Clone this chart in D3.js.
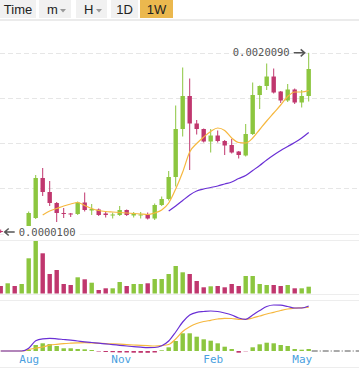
<!DOCTYPE html>
<html>
<head>
<meta charset="utf-8">
<script src="https://cdn.jsdelivr.net/npm/d3@7/dist/d3.min.js"></script>
<style>
  body { margin: 0; background: #fff; overflow: hidden; }
</style>
</head>
<body>
<svg id="chart"></svg>
<script>
// weekly candles, first week starts 2016-07-04
const firstWeek = new Date(2016, 6, 4);
const weekCount = 45;

const opens = [1.061e-5, 1.030e-5, 1.061e-5, 1.030e-5, 1.125e-5, 1.555e-5, 5.048e-5, 3.343e-5, 2.418e-5, 1.802e-5,
  1.776e-5, 1.750e-5, 2.454e-5, 1.939e-5, 1.997e-5, 1.776e-5, 1.699e-5, 1.699e-5, 1.968e-5, 1.674e-5,
  1.674e-5, 1.724e-5, 1.532e-5, 2.280e-5, 2.720e-5, 5.198e-5, 2.135e-4, 5.641e-4, 2.511e-4, 2.135e-4,
  1.478e-4, 1.763e-4, 1.500e-4, 1.333e-4, 1.101e-4, 9.788e-5, 1.843e-4, 5.809e-4, 7.571e-4, 1.001e-3,
  6.439e-4, 4.941e-4, 6.831e-4, 4.659e-4, 5.641e-4];
const highs = [1.108e-5, 1.076e-5, 1.092e-5, 1.108e-5, 1.883e-5, 5.512e-5, 6.775e-5, 4.620e-5, 2.490e-5, 2.087e-5,
  1.802e-5, 2.527e-5, 3.294e-5, 2.348e-5, 2.057e-5, 1.911e-5, 1.828e-5, 2.214e-5, 1.997e-5, 1.855e-5,
  1.855e-5, 1.828e-5, 2.383e-5, 2.928e-5, 6.201e-5, 4.265e-4, 1.305e-3, 9.441e-4, 2.783e-4, 2.167e-4,
  2.135e-4, 2.043e-4, 1.545e-4, 1.591e-4, 1.117e-4, 2.474e-4, 8.391e-4, 7.683e-4, 1.468e-3, 1.267e-3,
  6.535e-4, 8.030e-4, 7.034e-4, 6.730e-4, 2.009e-3];
const lows = [1.000e-5, 1.015e-5, 1.015e-5, 1.015e-5, 1.061e-5, 1.510e-5, 2.972e-5, 2.214e-5, 1.382e-5, 1.555e-5,
  1.602e-5, 1.699e-5, 1.883e-5, 1.699e-5, 1.650e-5, 1.578e-5, 1.532e-5, 1.650e-5, 1.650e-5, 1.578e-5,
  1.532e-5, 1.488e-5, 1.466e-5, 2.214e-5, 2.603e-5, 3.931e-5, 1.712e-4, 6.386e-5, 1.815e-4, 1.435e-4,
  1.069e-4, 1.435e-4, 9.933e-5, 1.038e-4, 8.962e-5, 9.504e-5, 1.789e-4, 3.847e-4, 6.730e-4, 6.070e-4,
  4.591e-4, 4.728e-4, 4.457e-4, 4.021e-4, 4.797e-4];
const closes = [1.030e-5, 1.061e-5, 1.030e-5, 1.092e-5, 1.802e-5, 5.048e-5, 3.343e-5, 2.418e-5, 1.802e-5, 1.750e-5,
  1.724e-5, 2.454e-5, 1.968e-5, 2.027e-5, 1.699e-5, 1.699e-5, 1.724e-5, 1.968e-5, 1.699e-5, 1.776e-5,
  1.724e-5, 1.532e-5, 2.280e-5, 2.720e-5, 5.198e-5, 2.135e-4, 5.641e-4, 2.511e-4, 2.135e-4, 1.478e-4,
  1.763e-4, 1.500e-4, 1.314e-4, 1.069e-4, 9.933e-5, 1.843e-4, 5.809e-4, 7.571e-4, 1.001e-3, 6.252e-4,
  4.941e-4, 6.831e-4, 4.659e-4, 5.641e-4, 1.249e-3];
const volumes = [7.5, 10.2, 7.5, 9.5, 35.2, 52.5, 40.2, 19.5, 23.5, 9.5,
  8.5, 16.2, 14.2, 10.8, 3.5, 5.2, 5.2, 11.5, 7.5, 9.5,
  9.5, 10.2, 14.5, 14.5, 19.5, 27.5, 21.2, 19.5, 12.5, 6.2,
  7.2, 7.5, 6.2, 9.5, 7.5, 17.5, 17.5, 9.5, 8.5, 8.5,
  7.5, 8.5, 5.2, 5.2, 6.8];
const ma7 = [null, null, null, null, null, null, 1.699e-5, 1.911e-5, 2.057e-5, 2.214e-5,
  2.348e-5, 2.454e-5, 2.246e-5, 2.057e-5, 1.939e-5, 1.883e-5, 1.855e-5, 1.828e-5, 1.802e-5, 1.776e-5,
  1.750e-5, 1.724e-5, 1.802e-5, 1.968e-5, 2.418e-5, 3.652e-5, 6.022e-5, 1.085e-4, 1.394e-4, 1.687e-4,
  1.984e-4, 2.199e-4, 2.043e-4, 1.638e-4, 1.435e-4, 1.414e-4, 1.638e-4, 2.104e-4, 2.702e-4, 3.420e-4,
  4.328e-4, 5.558e-4, 6.346e-4, 6.346e-4, 6.631e-4];
const ma25 = [null, null, null, null, null, null, null, null, null, null,
  null, null, null, null, null, null, null, null, null, null,
  null, null, null, null, 1.911e-5, 2.214e-5, 2.603e-5, 3.061e-5, 3.443e-5, 3.652e-5,
  3.816e-5, 3.989e-5, 4.231e-5, 4.487e-5, 4.973e-5, 5.433e-5, 6.294e-5, 7.293e-5, 8.577e-5, 9.933e-5,
  1.134e-4, 1.276e-4, 1.435e-4, 1.638e-4, 1.926e-4];
// MACD pane (arbitrary units)
const dif = [0, 0, 0, 0, 2.7, 10.2, 12.2, 12.7, 12.2, 11.5,
  10.8, 10, 9.2, 8.5, 7.8, 7.1, 6.4, 5.7, 5, 4.3,
  3.8, 3.4, 3.5, 5.2, 10, 19, 29, 36, 38.7, 39.5,
  40, 39.5, 38, 36, 33, 31.7, 36, 40.5, 44.5, 46,
  45.8, 44.5, 43, 43, 45];
const dea = [0, 0, 0, 0, 1.5, 3, 4, 5.8, 6.7, 7.4,
  7.8, 8.1, 8.3, 8, 7.7, 7.4, 7.1, 6.8, 6.4, 6,
  5.6, 5.3, 5, 5.4, 6.5, 12, 19.5, 24.3, 27.5, 29.5,
  30.7, 32, 32.7, 32.5, 31.7, 31.7, 33, 35, 37, 38.7,
  40.5, 42, 42.8, 43.2, 43.7];
const hist = [0, 0, 0, 0, 1.2, 6, 7.7, 7, 5, 2.7,
  2.7, 2, 1.7, 1, -0.5, -1, -1.2, -1.5, -1.5, -1.7,
  -1.8, -1.8, -1.5, 0.7, 3.7, 10, 17.7, 17.7, 14.3, 11.7,
  10.3, 7.7, 4.3, 2, -1.7, -0.3, 3.7, 6.7, 8.3, 7.7,
  6, 5, 2, 1.3, 2];
const monthTicks = [new Date(2016, 7, 1), new Date(2016, 10, 1), new Date(2017, 1, 1), new Date(2017, 4, 1)];
const buttons = ["Time", "m", "H", "1D", "1W"];

const width = 359, height = 370;
const green = "#8cc63f", pink = "#c0376e";

const svg = d3.select("#chart").attr("width", width).attr("height", height);

const candles = d3.range(weekCount).map(i => ({
  date: d3.timeWeek.offset(firstWeek, i),
  open: opens[i], high: highs[i], low: lows[i], close: closes[i],
  volume: volumes[i], ma7: ma7[i], ma25: ma25[i],
  dif: dif[i], dea: dea[i], hist: hist[i]
}));

// scales
const x = d3.scaleTime()
  .domain([firstWeek, d3.timeWeek.offset(firstWeek, weekCount - 1)])
  .range([0.7, 308.7]);
const y = d3.scaleLog().domain([1e-5, 2e-3]).range([233, 53]);
const yVol = d3.scaleLinear().domain([0, 53.5]).range([293.5, 240]);
const yMacd = d3.scaleLinear().domain([-5, 51]).range([356, 300]);

// toolbar
const btnX = [0, 39, 76, 111, 140];
const btnW = [36, 32, 31, 27, 33];
const tb = svg.append("g");
buttons.forEach((b, i) => {
  tb.append("rect")
    .attr("x", btnX[i]).attr("y", 0)
    .attr("width", btnW[i]).attr("height", 18)
    .attr("fill", b === "1W" ? "#ebb84e" : "#f1f1f1");
  const hasCaret = b === "m" || b === "H";
  tb.append("text")
    .attr("x", hasCaret ? btnX[i] + 8 : btnX[i] + btnW[i] / 2)
    .attr("y", 13.5)
    .attr("text-anchor", hasCaret ? "start" : "middle")
    .style("font-family", "'Liberation Sans', Arial, sans-serif")
    .style("font-size", "13px")
    .attr("fill", "#222")
    .text(b);
  if (hasCaret) {
    const cx = btnX[i] + btnW[i] - 8;
    tb.append("path")
      .attr("d", `M${cx - 3},9 L${cx + 3},9 L${cx},12.5 Z`)
      .attr("fill", "#999");
  }
});
svg.append("line")
  .attr("x1", 0).attr("x2", width).attr("y1", 20).attr("y2", 20)
  .attr("stroke", "#e4e4e4").attr("stroke-width", 1.5);

// price grid
const gridVals = d3.range(4).map(k => 1e-5 * Math.pow(200, (k + 1) / 4));
svg.append("g").selectAll("line")
  .data(gridVals)
  .enter().append("line")
  .attr("x1", 0).attr("x2", width)
  .attr("y1", d => Math.round(y(d)) + 0.5).attr("y2", d => Math.round(y(d)) + 0.5)
  .attr("stroke", "#e6e6e6")
  .attr("stroke-dasharray", "5,3");

// pane separators
[234, 240, 294, 300, 367].forEach(v => {
  svg.append("line")
    .attr("x1", 0).attr("x2", width).attr("y1", v + 0.5).attr("y2", v + 0.5)
    .attr("stroke", "#ededed");
});

const colorOf = d => d.close >= d.open ? green : pink;

// candles
const cg = svg.append("g");
cg.selectAll("line.wick")
  .data(candles)
  .enter().append("line")
  .attr("class", "wick")
  .attr("x1", d => x(d.date)).attr("x2", d => x(d.date))
  .attr("y1", d => y(d.high)).attr("y2", d => y(d.low))
  .attr("stroke", colorOf).attr("stroke-width", 1);
cg.selectAll("rect")
  .data(candles)
  .enter().append("rect")
  .attr("x", d => x(d.date) - 2.2)
  .attr("width", 4.4)
  .attr("y", d => Math.min(y(d.open), y(d.close)))
  .attr("height", d => Math.max(1, Math.abs(y(d.open) - y(d.close))))
  .attr("fill", colorOf);

// moving averages
const lineFor = (key, scale) => d3.line()
  .defined(d => d[key] !== null)
  .x(d => x(d.date))
  .y(d => scale(d[key]))
  .curve(d3.curveMonotoneX);

svg.append("path").datum(candles)
  .attr("d", lineFor("ma7", y))
  .attr("fill", "none").attr("stroke", "#f6b83f").attr("stroke-width", 1.2);
svg.append("path").datum(candles)
  .attr("d", lineFor("ma25", y))
  .attr("fill", "none").attr("stroke", "#6a30d5").attr("stroke-width", 1.2);

// high / low markers
const maxC = candles[d3.maxIndex(candles, d => d.high)];
const minC = candles[d3.minIndex(candles, d => d.low)];
const fmt = d3.format(".7f");
const mono = "'DejaVu Sans Mono', monospace";

const yHi = y(maxC.high);
svg.append("text")
  .attr("x", x(maxC.date) - 19).attr("y", yHi + 3.5)
  .attr("text-anchor", "end")
  .style("font-family", mono).style("font-size", "10.5px")
  .attr("fill", "#555")
  .text(fmt(maxC.high));
svg.append("path")
  .attr("d", `M${x(maxC.date) - 15},${yHi} L${x(maxC.date) - 4},${yHi} M${x(maxC.date) - 8},${yHi - 3.5} L${x(maxC.date) - 4},${yHi} L${x(maxC.date) - 8},${yHi + 3.5}`)
  .attr("fill", "none").attr("stroke", "#555").attr("stroke-width", 1.5);

const yLo = y(minC.low) - 1;
svg.append("rect")
  .attr("x", x(minC.date) + 3).attr("y", yLo - 6)
  .attr("width", 76).attr("height", 12)
  .attr("fill", "#fff");
svg.append("path")
  .attr("d", `M${x(minC.date) + 14},${yLo} L${x(minC.date) + 4},${yLo} M${x(minC.date) + 8},${yLo - 3.5} L${x(minC.date) + 4},${yLo} L${x(minC.date) + 8},${yLo + 3.5}`)
  .attr("fill", "none").attr("stroke", "#555").attr("stroke-width", 1.5);
svg.append("text")
  .attr("x", x(minC.date) + 18).attr("y", yLo + 3.5)
  .style("font-family", mono).style("font-size", "10.5px")
  .attr("fill", "#555")
  .text(fmt(minC.low));

// volume
svg.append("g").selectAll("rect")
  .data(candles)
  .enter().append("rect")
  .attr("x", d => x(d.date) - 2.2)
  .attr("width", 4.4)
  .attr("y", d => yVol(d.volume))
  .attr("height", d => yVol(0) - yVol(d.volume))
  .attr("fill", colorOf);

// MACD
svg.append("g").selectAll("rect")
  .data(candles)
  .enter().append("rect")
  .attr("x", d => x(d.date) - 2.2)
  .attr("width", 4.4)
  .attr("y", d => yMacd(Math.max(0, d.hist)))
  .attr("height", d => Math.abs(yMacd(d.hist) - yMacd(0)))
  .attr("fill", d => d.hist >= 0 ? green : pink);

svg.append("line")
  .attr("x1", x(candles[weekCount - 1].date) + 3).attr("x2", width)
  .attr("y1", yMacd(0)).attr("y2", yMacd(0))
  .attr("stroke", "#555").attr("stroke-dasharray", "6,2,1,2");

svg.append("path").datum(candles)
  .attr("d", lineFor("dea", yMacd))
  .attr("fill", "none").attr("stroke", "#f6b83f").attr("stroke-width", 1.2);
svg.append("path").datum(candles)
  .attr("d", lineFor("dif", yMacd))
  .attr("fill", "none").attr("stroke", "#6a30d5").attr("stroke-width", 1.2);

// time axis
const xAxis = d3.axisBottom(x)
  .tickValues(monthTicks)
  .tickFormat(d3.timeFormat("%b"))
  .tickSize(0);
const ax = svg.append("g")
  .attr("transform", "translate(0, 351)")
  .call(xAxis);
ax.select(".domain").remove();
ax.selectAll("text")
  .style("font-family", mono)
  .style("font-size", "11px")
  .attr("fill", "#4a9fe0")
  .attr("dy", "0.85em");
</script>
</body>
</html>
